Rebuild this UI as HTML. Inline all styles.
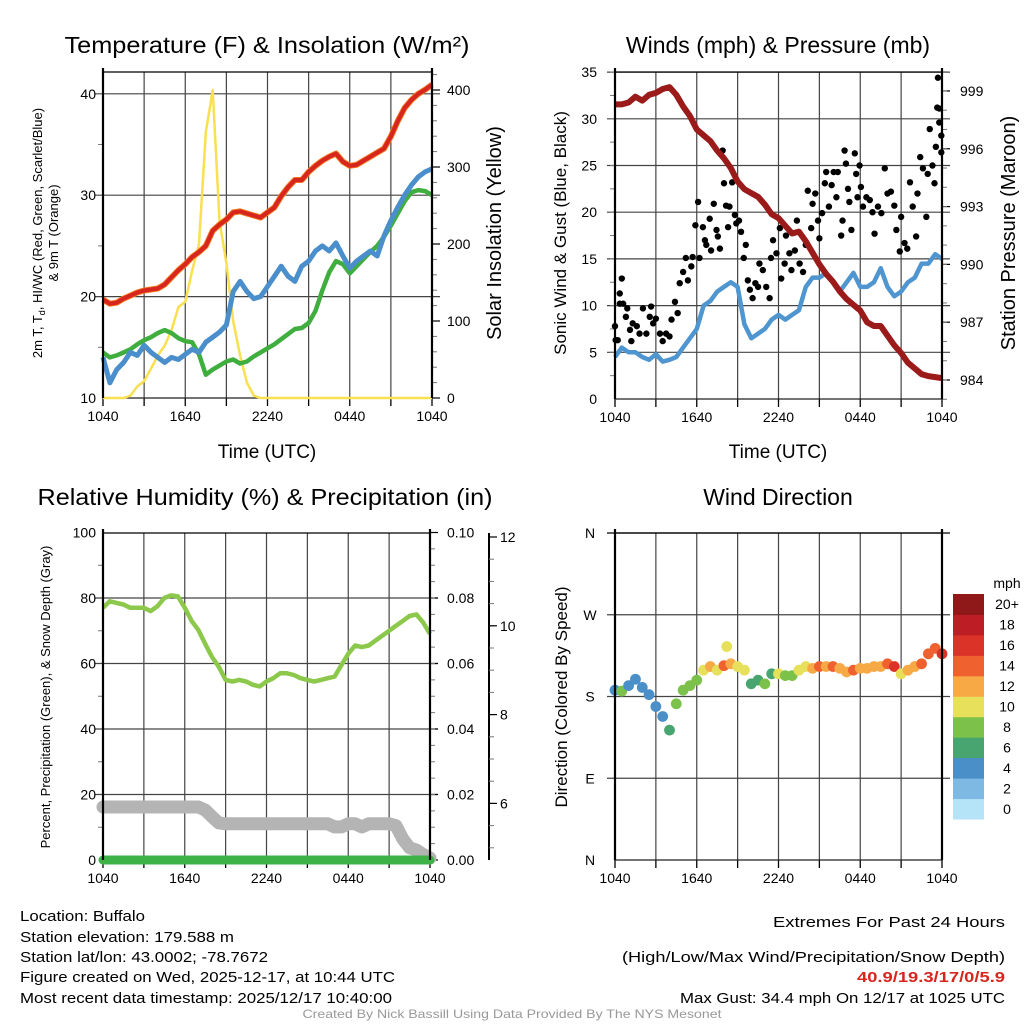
<!DOCTYPE html>
<html><head><meta charset="utf-8"><style>
html,body{margin:0;padding:0;background:#fff;}
svg{display:block;font-family:"Liberation Sans",sans-serif;}
</style></head>
<body>
<svg id="root" width="1024" height="1024" viewBox="0 0 1024 1024" xmlns="http://www.w3.org/2000/svg">
<rect x="0" y="0" width="1024" height="1024" fill="#fff"/>
<text x="267" y="53" font-size="23" text-anchor="middle" textLength="405" lengthAdjust="spacingAndGlyphs">Temperature (F) &amp; Insolation (W/m²)</text>
<text x="778" y="53" font-size="23" text-anchor="middle">Winds (mph) &amp; Pressure (mb)</text>
<text x="265" y="505" font-size="23" text-anchor="middle" textLength="455" lengthAdjust="spacingAndGlyphs">Relative Humidity (%) &amp; Precipitation (in)</text>
<text x="778" y="505" font-size="23" text-anchor="middle">Wind Direction</text>
<text x="267" y="458" font-size="19" text-anchor="middle">Time (UTC)</text>
<text x="778" y="458" font-size="19" text-anchor="middle">Time (UTC)</text>
<text transform="translate(42,233) rotate(-90)" font-size="13" text-anchor="middle">2m T, T<tspan font-size="9" dy="3">d</tspan><tspan dy="-3">, HI/WC (Red, Green, Scarlet/Blue)</tspan></text>
<text transform="translate(58,233) rotate(-90)" font-size="13" text-anchor="middle">&amp; 9m T (Orange)</text>
<text transform="translate(501,233) rotate(-90)" font-size="20" text-anchor="middle">Solar Insolation (Yellow)</text>
<text transform="translate(566,233) rotate(-90)" font-size="17" text-anchor="middle">Sonic Wind &amp; Gust (Blue, Black)</text>
<text transform="translate(1015,233) rotate(-90)" font-size="20" text-anchor="middle">Station Pressure (Maroon)</text>
<text transform="translate(50,697) rotate(-90)" font-size="13" text-anchor="middle">Percent, Precipitation (Green), &amp; Snow Depth (Gray)</text>
<text transform="translate(567,697) rotate(-90)" font-size="17" text-anchor="middle">Direction (Colored By Speed)</text>
<g font-size="15">
<text x="20" y="921" textLength="125" lengthAdjust="spacingAndGlyphs">Location: Buffalo</text>
<text x="20" y="942" textLength="214" lengthAdjust="spacingAndGlyphs">Station elevation: 179.588 m</text>
<text x="20" y="962" textLength="248" lengthAdjust="spacingAndGlyphs">Station lat/lon: 43.0002; -78.7672</text>
<text x="20" y="982" textLength="375" lengthAdjust="spacingAndGlyphs">Figure created on Wed, 2025-12-17, at 10:44 UTC</text>
<text x="20" y="1003" textLength="372" lengthAdjust="spacingAndGlyphs">Most recent data timestamp: 2025/12/17 10:40:00</text>
</g>
<g font-size="15" text-anchor="end">
<text x="1005" y="927" textLength="232" lengthAdjust="spacingAndGlyphs">Extremes For Past 24 Hours</text>
<text x="1005" y="962" textLength="383" lengthAdjust="spacingAndGlyphs">(High/Low/Max Wind/Precipitation/Snow Depth)</text>
<text x="1005" y="982" font-weight="bold" fill="#d7261e" textLength="148" lengthAdjust="spacingAndGlyphs">40.9/19.3/17/0/5.9</text>
<text x="1005" y="1003" textLength="325" lengthAdjust="spacingAndGlyphs">Max Gust: 34.4 mph On 12/17 at 1025 UTC</text>
</g>
<text x="512" y="1018" font-size="12" fill="#999" text-anchor="middle" textLength="419" lengthAdjust="spacingAndGlyphs">Created By Nick Bassill Using Data Provided By The NYS Mesonet</text>
</svg>
<script>
const hours = [0,0.5,1,1.5,2,2.5,3,3.5,4,4.5,5,5.5,6,6.5,7,7.5,8,8.5,9,9.5,10,10.5,11,11.5,12,12.5,13,13.5,14,14.5,15,15.5,16,16.5,17,17.5,18,18.5,19,19.5,20,20.5,21,21.5,22,22.5,23,23.5,24];
const xTickLabels = ["1040","1640","2240","0440","1040"];
const tempF = [19.7,19.3,19.4,19.8,20.1,20.4,20.6,20.7,20.8,21.2,21.9,22.6,23.2,23.9,24.4,25.0,26.5,27.1,27.6,28.3,28.4,28.2,28.0,27.8,28.3,28.8,29.9,30.8,31.5,31.5,32.3,32.9,33.4,33.8,34.1,33.3,32.9,33.0,33.4,33.8,34.2,34.6,35.8,37.3,38.6,39.4,40.0,40.4,40.9];
const windChill = [14,11.5,12.8,13.5,14.5,14.2,15.2,14.5,14.0,13.5,14.0,13.8,14.3,14.8,14.5,15.5,16.0,16.5,17.2,20.5,21.5,20.5,19.8,20.0,21.0,22.0,23.0,22.0,21.5,23.0,23.5,24.5,25.0,24.5,25.3,24.0,22.8,23.5,24.0,24.5,24.0,26.0,27.5,28.8,30.0,31.0,31.8,32.3,32.6];
const dewpoint = [14.5,14.0,14.2,14.5,14.8,15.3,15.7,16.0,16.4,16.7,16.4,15.9,15.6,15.5,14.3,12.3,12.8,13.2,13.6,13.8,13.4,13.6,14.1,14.5,14.9,15.3,15.8,16.3,16.8,16.9,17.4,18.6,20.6,22.4,23.5,23.2,22.3,23.0,23.7,24.4,25.0,25.9,27.0,28.2,29.4,30.3,30.5,30.4,30.0];
const solar = [0,0,0,0,3,15,22,38,55,68,88,118,125,165,200,345,400,230,175,100,55,20,3,0,0,0,0,0,0,0,0,0,0,0,0,0,0,0,0,0,0,0,0,0,0,0,0,0,0];
const tempTicks = [10,20,30,40];
const solarTicks = [0,100,200,300,400];

const pressure = [998.3,998.3,998.4,998.7,998.5,998.8,998.9,999.1,999.2,998.8,998.2,997.7,997.0,996.7,996.4,995.9,995.5,995.0,994.3,993.9,993.7,993.5,993.1,992.6,992.4,992.0,991.6,991.7,991.2,990.6,990.0,989.5,989.1,988.6,988.2,987.9,987.6,987.0,986.8,986.8,986.3,985.8,985.4,984.9,984.6,984.3,984.2,984.15,984.1];
const windSpeed = [4.5,5.5,5.0,5.0,4.5,4.2,4.8,4.0,4.2,4.5,5.5,6.5,7.5,10,10.5,11.5,12,12.5,12,8,6.5,7,7.5,8.5,9,8.5,9,9.5,12,13,13,13.5,12.5,11.5,12.5,13.5,12,12,12.5,14,12,11,11.5,12.5,13,14.5,14.5,15.5,15];
const gustHours = [0,0.05,0.2,0.35,0.5,0.35,0.6,0.9,0.8,1.1,1.3,1.6,1.2,1.8,2.05,2.3,2.55,2.65,2.8,3.0,3.3,3.5,3.75,4.0,4.15,4.4,4.6,4.75,5.0,5.2,5.35,5.6,5.7,5.9,6.1,6.2,6.45,6.6,6.7,6.95,7.05,7.25,7.45,7.55,7.7,7.9,8.0,8.15,8.3,8.4,8.6,8.8,8.9,9.1,9.25,9.45,9.6,9.75,9.9,10.1,10.3,10.5,10.6,10.85,11.1,11.35,11.45,11.6,11.85,12.1,12.2,12.45,12.55,12.8,12.95,13.2,13.35,13.55,13.8,14.0,14.15,14.4,14.5,14.7,14.9,15.0,15.2,15.4,15.5,15.7,15.9,16.05,16.25,16.35,16.6,16.7,16.85,16.95,17.1,17.2,17.35,17.6,17.7,17.8,17.95,18.05,18.2,18.45,18.7,18.9,19.05,19.3,19.55,19.8,20.0,20.25,20.5,20.65,20.9,21.0,21.25,21.45,21.65,21.85,22.1,22.2,22.4,22.6,22.85,22.95,23.1,23.3,23.45,23.55,23.7,23.65,23.8,23.95,23.95,23.8];
const gustValues = [7.8,6.3,6.3,11.3,12.9,10.2,10.2,9.7,8.8,7.4,8.1,7.8,6.2,7.0,9.7,7.0,8.8,9.9,8.1,8.6,7.0,6.2,7.0,6.7,8.5,10.4,9.2,12.4,13.6,15.1,12.7,14.2,15.2,18.6,21.1,15.1,18.4,17.0,16.5,19.3,15.9,20.9,18.1,17.4,16.1,26.6,23.1,20.7,18.4,20.6,23.2,19.7,18.8,19.1,17.9,15.1,16.5,12.7,11.7,10.8,12.4,12.0,14.5,13.8,12.0,10.8,15.1,17.0,15.6,18.3,12.9,14.5,17.5,15.6,13.8,15.9,19.1,14.5,13.6,16.5,22.3,18.3,20.9,22.0,19.1,17.2,19.9,23.1,24.3,20.6,22.9,24.3,21.6,24.3,17.5,19.1,26.6,25.2,22.5,21.1,18.1,26.3,24.1,21.6,25.0,22.7,20.6,21.6,21.3,20.0,17.7,20.6,19.9,24.7,22.0,22.2,20.7,18.1,15.8,19.5,16.7,16.1,23.2,20.6,17.4,22.0,25.9,24.7,19.5,24.1,28.9,25.0,23.1,27.0,34.4,31.2,31.1,26.4,28.2,29.6];
const windTicks = [0,5,10,15,20,25,30,35];
const pressureTicks = [984,987,990,993,996,999];

const humidity = [77,79,78.5,78,77,77,77,76,77.5,80,80.8,80.5,77,73,70.2,66,62,59,55,54.5,55,54.5,53.5,53,54.5,55.5,57,57,56.5,55.5,55,54.5,55,55.5,56,59.5,63,65.5,65,65.5,67,68.5,70,71.5,73,74.5,75,72.5,69];
const snowDepth = [5.92,5.92,5.92,5.92,5.92,5.92,5.92,5.92,5.92,5.92,5.92,5.92,5.92,5.92,5.92,5.85,5.7,5.56,5.54,5.54,5.54,5.54,5.54,5.54,5.54,5.54,5.54,5.54,5.54,5.54,5.54,5.54,5.54,5.54,5.47,5.47,5.54,5.54,5.47,5.54,5.54,5.54,5.54,5.5,5.2,5.0,4.95,4.85,4.77];
const precip = [0,0,0,0,0,0,0,0,0,0,0,0,0,0,0,0,0,0,0,0,0,0,0,0,0,0,0,0,0,0,0,0,0,0,0,0,0,0,0,0,0,0,0,0,0,0,0,0,0];
const rhTicks = [0,20,40,60,80,100];
const precipTicks = ["0.00","0.02","0.04","0.06","0.08","0.10"];
const snowTicks = [6,8,10,12];

const dirHours = [0,0.5,1,1.5,2,2.5,3,3.5,4,4.5,5,5.5,6,6.5,7,7.5,8,8.2,8.5,9,9.5,10,10.5,11,11.5,12,12.5,13,13.5,14,14.5,15,15.5,16,16.5,17,17.5,18,18.5,19,19.5,20,20.5,21,21.5,22,22.5,23,23.5,24];
const dirDegrees = [187,186,192,199,190,182,169,158,143,172,187,192,198,209,213,209,214,235,216,213,209,194,198,194,205,205,203,203,209,213,211,213,213,213,211,207,209,211,211,213,213,216,213,205,209,213,216,227,233,227];
const dirSpeeds = [4,7,4,4,4,4,4,4,6,7,7,7,8,10,12,10,14,10,12,10,10,6,6,8,6,10,8,8,10,9,12,14,12,14,12,12,14,12,12,12,12,14,16,10,12,12,14,14,13,16];
const dirLabels = ["N","E","S","W","N"];
const dirTicks = [0,90,180,270,360];
const speedBins = ["0","2","4","6","8","10","12","14","16","18","20+"];
const speedColors = ["#b5e3f8","#7eb9e3","#4a8fc8","#48a56f","#7cc24a","#e6e05a","#f7a945","#ef6230","#dc3328","#bd1e26","#8f1819"];

const NS = "http://www.w3.org/2000/svg";
const root = document.getElementById("root");
function el(tag, attrs, parent){
  const e = document.createElementNS(NS, tag);
  for (const k in attrs) e.setAttribute(k, attrs[k]);
  (parent||root).appendChild(e);
  return e;
}
function grp(name){
  const g = el("g", {});
  
  
  return g;
}
function frame(g, x0, x1, yTop, yBot, prefix){
  for (let h = 3; h < 24; h += 3){
    const x = x0 + h/24*(x1-x0);
    const l = el("line", {x1:x, x2:x, y1:yTop, y2:yBot, stroke:"#444", "stroke-width":1.2}, g);
    
    
  }
  for (let h = 0; h <= 24; h += 3){
    const x = x0 + h/24*(x1-x0);
    const t = el("line", {x1:x, x2:x, y1:yBot, y2:yBot+8, stroke:"#000", "stroke-width":1.3}, g);
    
    
  }
  xTickLabels.forEach((lab, i) => {
    const x = x0 + i*6/24*(x1-x0);
    const t = el("text", {x:x, y:yBot+23, "font-size":14, "text-anchor":"middle"}, g);
    t.textContent = lab;
    
    
  });
  const top = el("line", {x1:x0, x2:x1, y1:yTop, y2:yTop, stroke:"#000", "stroke-width":1.2}, g);
  
  
  const bot = el("line", {x1:x0, x2:x1, y1:yBot, y2:yBot, stroke:"#222", "stroke-width":1.3}, g);
  
  
}
function axesLines(g, x0, x1, yTop, yBot, prefix){
  const a = el("line", {x1:x0, x2:x0, y1:yTop-4, y2:yBot, stroke:"#000", "stroke-width":2.2}, g);
  
  
  const b = el("line", {x1:x1, x2:x1, y1:yTop-4, y2:yBot, stroke:"#000", "stroke-width":2.2}, g);
  
  
}
function hgrid(g, x0, x1, y, prefix){
  const l = el("line", {x1:x0-8, x2:x1+8, y1:y, y2:y, stroke:"#444", "stroke-width":1.2}, g);
  
  
}
function minorTick(g, x, y, dir, prefix){
  const l = el("line", {x1:x, x2:x+dir*5, y1:y, y2:y, stroke:"#777", "stroke-width":1}, g);
  
  
}
function label(g, x, y, txt, anchor, prefix){
  const t = el("text", {x:x, y:y+5, "font-size":14, "text-anchor":anchor}, g);
  t.textContent = txt;
  
  
}
function pathFrom(xs, ys){
  return xs.map((x,i)=> (i?"L":"M") + x.toFixed(1) + "," + ys[i].toFixed(1)).join("");
}

(function(){
  const x0=103, x1=432, yTop=72, yBot=398;
  const xS = h => x0 + h/24*(x1-x0);
  const yT = v => 398 - (v-10)*10.14;
  const yS = v => 398 - v*0.77;
  const g = grp("temperature-chart");
  tempTicks.forEach(v => { if (v>10) hgrid(g, x0, x1, yT(v), "temp"); label(g, 96, yT(v), String(v), "end", "temp-y-tick-label"); });
  for (let v=15; v<=40; v+=10) minorTick(g, x0, yT(v), -1, "temp");
  solarTicks.forEach(v => label(g, 447, yS(v), String(v), "start", "solar-y-tick-label"));
  for (let v=0; v<=420; v+=20) minorTick(g, x1, yS(v), 1, "solar");
  solarTicks.forEach(v => { const l = el("line",{x1:x1,x2:x1+8,y1:yS(v),y2:yS(v),stroke:"#000","stroke-width":1.2},g);
    
     });
  frame(g, x0, x1, yTop, yBot, "temp");
  const xs = hours.map(xS);
  const sol = el("path", {d:pathFrom(xs, solar.map(yS)), fill:"none", stroke:"#f8e050", "stroke-width":2.5, "stroke-linejoin":"round"}, g);
  
  
  const dp = el("path", {d:pathFrom(xs, dewpoint.map(yT)), fill:"none", stroke:"#3fae3f", "stroke-width":4.5, "stroke-linejoin":"round"}, g);
  
  
  const wc = el("path", {d:pathFrom(xs, windChill.map(yT)), fill:"none", stroke:"#4a8fcc", "stroke-width":5, "stroke-linejoin":"round"}, g);
  
  
  const t9 = el("path", {d:pathFrom(xs, tempF.map(yT)), fill:"none", stroke:"#f47a22", "stroke-width":6, "stroke-linejoin":"round"}, g);
  
  
  const t2 = el("path", {d:pathFrom(xs, tempF.map(yT)), fill:"none", stroke:"#d7261e", "stroke-width":4.2, "stroke-linejoin":"round"}, g);
  
  
  axesLines(g, x0, x1, yTop, yBot, "temp");
})();

(function(){
  const x0=615, x1=942, yTop=72, yBot=399;
  const xS = h => x0 + h/24*(x1-x0);
  const yW = v => 399 - v*9.34;
  const yP = v => 380 - (v-984)*19.27;
  const g = grp("winds-chart");
  windTicks.forEach(v => { if (v>0) hgrid(g, x0, x1, yW(v), "wind"); label(g, 597, yW(v), String(v), "end", "wind-y-tick-label"); });
  pressureTicks.forEach(v => { label(g, 960, yP(v), String(v), "start", "pressure-y-tick-label");
    const l = el("line",{x1:x1,x2:x1+8,y1:yP(v),y2:yP(v),stroke:"#000","stroke-width":1.2},g);
    
     });
  for (let v=983; v<=1000; v+=1) minorTick(g, x1, yP(v), 1, "pressure");
  for (let v=2.5; v<=35; v+=2.5) minorTick(g, x0, yW(v), -1, "wind");
  frame(g, x0, x1, yTop, yBot, "wind");
  const xs = hours.map(xS);
  const ws = el("path", {d:pathFrom(xs, windSpeed.map(yW)), fill:"none", stroke:"#4f95d0", "stroke-width":4.5, "stroke-linejoin":"round"}, g);
  
  
  gustHours.forEach((h,i) => {
    const c = el("circle", {cx:xS(h), cy:yW(gustValues[i]), r:3.2, fill:"#000"}, g);
    
    
  });
  const pr = el("path", {d:pathFrom(xs, pressure.map(yP)), fill:"none", stroke:"#9b1b1b", "stroke-width":6, "stroke-linejoin":"round"}, g);
  
  
  axesLines(g, x0, x1, yTop, yBot, "wind");
})();

(function(){
  const x0=103, x1=430, yTop=533, yBot=860;
  const xS = h => x0 + h/24*(x1-x0);
  const yR = v => 860 - v*3.275;
  const ySn = v => 537 + (12-v)*44.4;
  const g = grp("humidity-chart");
  rhTicks.forEach((v,i) => { if (v>0 && v<100) hgrid(g, x0, x1, yR(v), "rh"); label(g, 96, yR(v), String(v), "end", "rh-y-tick-label");
    label(g, 447, yR(v), precipTicks[i], "start", "precip-y-tick-label");
    const l = el("line",{x1:x1,x2:x1+8,y1:yR(v),y2:yR(v),stroke:"#000","stroke-width":1.2},g);
    
     });
  for (let v=10; v<100; v+=20){ minorTick(g, x0, yR(v), -1, "rh"); }
  for (let v=5; v<100; v+=5){ minorTick(g, x1, yR(v), 1, "precip"); }
  const sa = el("line", {x1:489, x2:489, y1:533, y2:860, stroke:"#000", "stroke-width":2}, g);
  
  
  for (let v=5; v<=12; v+=0.5) minorTick(g, 489, ySn(v), 1, "snow");
  snowTicks.forEach(v => { label(g, 500, ySn(v), String(v), "start", "snow-y-tick-label");
    const l = el("line",{x1:489,x2:497,y1:ySn(v),y2:ySn(v),stroke:"#000","stroke-width":1.2},g);
    
     });
  frame(g, x0, x1, yTop, yBot, "rh");
  const xs = hours.map(xS);
  const sn = el("path", {d:pathFrom(xs, snowDepth.map(ySn)), fill:"none", stroke:"#b4b4b4", "stroke-width":13, "stroke-linejoin":"round", "stroke-linecap":"round"}, g);
  
  
  const pc = el("path", {d:pathFrom(xs, precip.map(v => yR(v*1000))), fill:"none", stroke:"#3db347", "stroke-width":9, "stroke-linecap":"round"}, g);
  
  
  const rh = el("path", {d:pathFrom(xs, humidity.map(yR)), fill:"none", stroke:"#8cc84b", "stroke-width":4.5, "stroke-linejoin":"round"}, g);
  
  
  axesLines(g, x0, x1, yTop, yBot, "rh");
})();

(function(){
  const x0=615, x1=942, yTop=533, yBot=860;
  const xS = h => x0 + h/24*(x1-x0);
  const yD = v => 860 - v*0.9083;
  const g = grp("wind-direction-chart");
  dirTicks.forEach((v,i) => { if (v>0 && v<360) hgrid(g, x0, x1, yD(v), "dir"); label(g, 590, yD(v), dirLabels[i], "middle", "dir-y-tick-label"); });
  frame(g, x0, x1, yTop, yBot, "dir");
  const top = el("line", {x1:x0-8, x2:x1+8, y1:yTop, y2:yTop, stroke:"#000", "stroke-width":1.2}, g);
  
  
  const colorFor = s => speedColors[Math.min(10, Math.floor((s+1)/2))];
  dirHours.forEach((h,i) => {
    const c = el("circle", {cx:xS(h), cy:yD(dirDegrees[i]), r:5.4, fill:colorFor(dirSpeeds[i])}, g);
    
    
  });
  axesLines(g, x0, x1, yTop, yBot, "dir");
  const cb = grp("speed-colorbar");
  const unit = el("text", {x:1007, y:588, "font-size":14, "text-anchor":"middle"}, cb);
  unit.textContent = "mph";
  
  
  const cellH = 225/11;
  speedBins.forEach((lab, i) => {
    const k = 10 - i;
    const y = 594 + k*cellH;
    const r = el("rect", {x:953, y:y, width:31, height:cellH+0.5, fill:speedColors[i]}, cb);
    
    
    const t = el("text", {x:1007, y:y+cellH/2+5, "font-size":14, "text-anchor":"middle"}, cb);
    t.textContent = lab;
    
    
  });
})();
</script>
</body></html>
